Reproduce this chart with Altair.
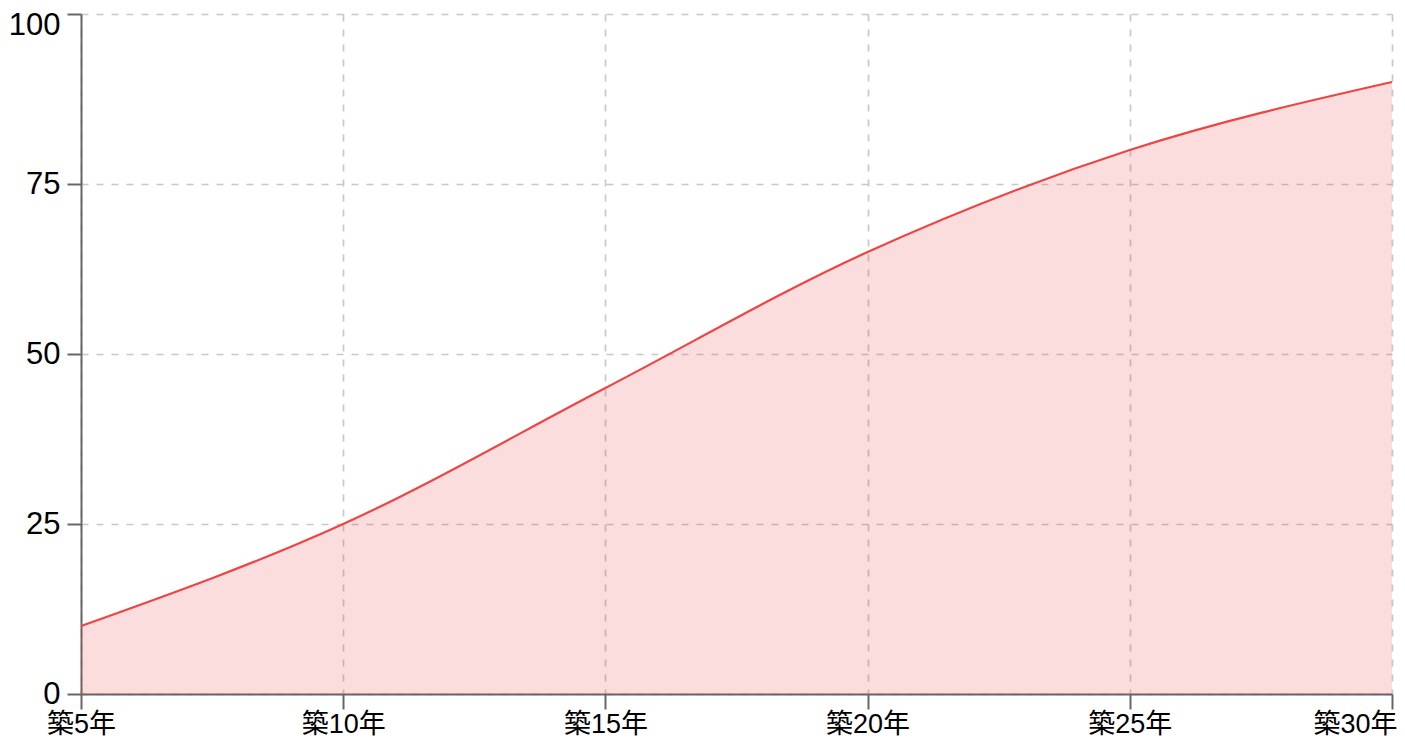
import altair as alt
import pandas as pd

categories = ["築5年", "築10年", "築15年", "築20年", "築25年", "築30年"]
values = [10, 25, 45, 65, 80, 90]
y_ticks = [0, 25, 50, 75, 100]

df = pd.DataFrame({"cat": categories, "val": values})

FONT = "Liberation Sans, Noto Sans CJK JP, sans-serif"

x_enc = alt.X(
    "cat:N",
    sort=categories,
    scale=alt.Scale(type="point", padding=0),
    axis=alt.Axis(
        title=None,
        labelAngle=0,
        labelFont=FONT,
        labelFontSize=27,
        labelColor="#000",
        labelPadding=2,
        labelAlign={"condition": {"test": "datum.value == '築30年'", "value": "right"}, "value": "center"},
        labelOffset={"condition": {"test": "datum.value == '築30年'", "value": 5}, "value": 0},
        domainColor="#666",
        domainWidth=2,
        tickColor="#666",
        tickWidth=2,
        tickSize=15,
        grid=True,
        gridColor="#c8c8c8",
        gridWidth=1.7,
        gridDash=[7, 8],
    ),
)

y_enc = alt.Y(
    "val:Q",
    scale=alt.Scale(domain=[0, 100], nice=False),
    axis=alt.Axis(
        title=None,
        values=y_ticks,
        labelFont=FONT,
        labelFontSize=31,
        labelColor="#000",
        labelPadding=7,
        labelBaseline="middle",
        labelOffset={"condition": {"test": "datum.value == 100", "value": 11}, "value": 0},
        domainColor="#666",
        domainWidth=2,
        tickColor="#666",
        tickWidth=2,
        tickSize=14,
        grid=True,
        gridColor="#c8c8c8",
        gridWidth=1.7,
        gridDash=[7, 8],
    ),
)

base = alt.Chart(df).encode(x=x_enc, y=y_enc)

area = base.mark_area(interpolate="monotone", color="#ef4444", opacity=0.18)
line = base.mark_line(interpolate="monotone", color="#ef4444", strokeWidth=2.2)

chart = (
    alt.layer(area, line)
    .properties(
        width=1311,
        height=680,
        autosize=alt.AutoSizeParams(type="none"),
        padding={"left": 73, "top": 6, "right": 5, "bottom": 50},
    )
    .configure_view(stroke=None)
)

chart.save("out.html", embed_options={"renderer": "svg", "actions": False})
